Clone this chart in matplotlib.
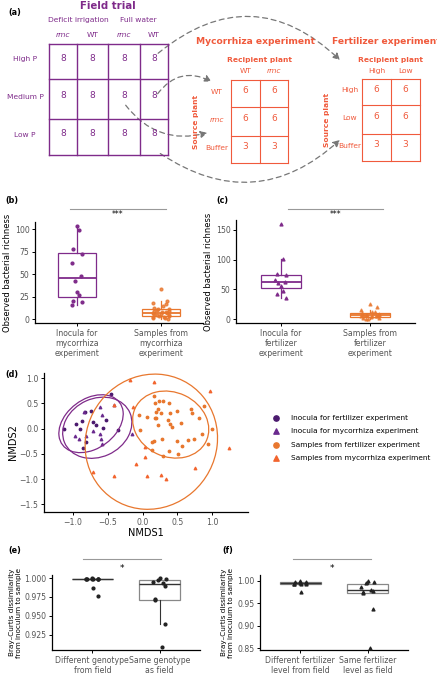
import numpy as np
import matplotlib
matplotlib.use("Agg")
import matplotlib.pyplot as plt
from matplotlib.patches import FancyArrowPatch, Ellipse

W, H = 437, 680
PURPLE = "#7f2b8a"
ORANGE = "#e8772e"
RED = "#f05a3c"

# ---- panel a data
field_rows = ["High P", "Medium P", "Low P"]
field_cols = ["rmc", "WT", "rmc", "WT"]
field_n = [[8, 8, 8, 8], [8, 8, 8, 8], [8, 8, 8, 8]]
myc_cols = ["WT", "rmc"]
myc_rows = ["WT", "rmc", "Buffer"]
myc_n = [[6, 6], [6, 6], [3, 3]]
fert_cols = ["High", "Low"]
fert_rows = ["High", "Low", "Buffer"]
fert_n = [[6, 6], [6, 6], [3, 3]]

# ---- panel b/c data
b_inoc = [104, 99, 78, 72, 62, 48, 43, 30, 27, 20, 19, 16]
b_samp = [34, 20, 18, 17, 15, 13, 12, 11, 10, 9, 9, 8, 8, 7, 7, 6, 6, 5, 5, 4, 4, 3, 3, 2, 1, 0]
c_inoc = [160, 101, 75, 74, 66, 63, 60, 56, 48, 42, 36]
c_samp = [25, 20, 15, 13, 12, 10, 9, 8, 8, 7, 7, 6, 6, 5, 5, 4, 3, 2, 1, 0]

# ---- panel d data (NMDS1, NMDS2)
inoc_fert_x = [-1.13, -0.96, -0.90, -0.87, -0.83, -0.74, -0.71, -0.67, -0.57, -0.53, -0.36, -0.45, -0.81, -0.86]
inoc_fert_y = [0.00, 0.10, 0.00, 0.16, 0.33, 0.34, 0.14, 0.07, 0.02, 0.18, -0.02, 0.69, -0.26, -0.39]
inoc_myc_x = [-0.97, -0.91, -0.82, -0.62, -0.62, -0.60, -0.58, -0.72, -0.58, -0.85, -0.41, -0.15]
inoc_myc_y = [-0.15, -0.21, -0.14, 0.43, -0.11, -0.21, -0.31, -0.05, 0.26, 0.33, 0.47, -0.11]
samp_fert_x = [0.17, 0.18, 0.24, 0.29, 0.38, 0.23, 0.19, 0.20, 0.18, 0.26, 0.40, 0.49, 0.37, 0.39, 0.56,
               0.42, 0.70, 0.71, 0.88, 0.82, 0.22, 0.07, -0.05, 0.28, 0.49, 0.57, 0.65, 0.74, 0.86, 0.94,
               1.00, 0.13, 0.17, 0.38, 0.51, 0.30, 0.14, -0.03]
samp_fert_y = [0.64, 0.51, 0.55, 0.55, 0.51, 0.39, 0.32, 0.20, 0.20, 0.30, 0.31, 0.34, 0.18, 0.10, 0.12,
               0.04, 0.38, 0.30, 0.45, 0.20, 0.07, 0.22, 0.26, -0.21, -0.25, -0.34, -0.23, -0.21, -0.10, -0.31,
               0.00, -0.26, -0.25, -0.44, -0.51, -0.54, -0.43, -0.03]
samp_myc_x = [-0.18, 0.17, 0.97, -0.14, 0.04, -0.10, -0.72, -0.41, 0.06, 0.26, 0.34, 0.75, 1.24, 0.03, -0.41]
samp_myc_y = [0.97, 0.92, 0.74, 0.43, -0.57, -0.70, -0.86, -0.94, -0.94, -0.91, -0.99, -0.77, -0.38, -0.36, 0.47]
legend_labels = ["Inocula for fertilizer experiment", "Inocula for mycorrhiza experiment",
                 "Samples from fertilizer experiment", "Samples from mycorrhiza experiment"]

# ---- panel e/f data
e_diff = [0.9995, 0.9993, 0.9992, 0.9991, 0.999, 0.999, 0.9989, 0.9988, 0.9987, 0.987, 0.976]
e_same = [1.000, 0.999, 0.998, 0.995, 0.993, 0.990, 0.972, 0.971, 0.939, 0.909]
f_diff = [0.999, 0.998, 0.997, 0.996, 0.995, 0.994, 0.993, 0.993, 0.992, 0.975]
f_same = [0.999, 0.997, 0.995, 0.986, 0.980, 0.977, 0.975, 0.972, 0.937, 0.850]

fig = plt.figure(figsize=(W / 100, H / 100), dpi=100)
FS = 5.6


def px_axes(x0, y0, x1, y1):
    return fig.add_axes([x0 / W, 1 - y1 / H, (x1 - x0) / W, (y1 - y0) / H])


def style(ax):
    for s in ["top", "right"]:
        ax.spines[s].set_visible(False)
    for s in ["left", "bottom"]:
        ax.spines[s].set_linewidth(0.9)
    ax.tick_params(labelsize=FS, labelcolor="#555555", length=2.5, width=0.7, pad=1.5)


# ---------------- panel a (drawn in pixel space)
ov = fig.add_axes([0, 0, 1, 1])
ov.set_xlim(0, W)
ov.set_ylim(H, 0)
ov.axis("off")


def grid(x_edges, y_edges, vals, color, lw):
    for x in x_edges:
        ov.plot([x, x], [y_edges[0], y_edges[-1]], color=color, lw=lw)
    for y in y_edges:
        ov.plot([x_edges[0], x_edges[-1]], [y, y], color=color, lw=lw)
    for i, row in enumerate(vals):
        for j, v in enumerate(row):
            ov.text((x_edges[j] + x_edges[j + 1]) / 2, (y_edges[i] + y_edges[i + 1]) / 2 - 3, str(v),
                    ha="center", va="center", color=color, fontsize=6.5)


ov.text(8, 13, "(a)", fontsize=5.8, fontweight="bold", va="center")
fx = [49, 77, 108, 140, 168]
fy = [44, 79, 119, 155]
grid(fx, fy, field_n, PURPLE, 1.0)
ov.text(108, 6, "Field trial", color=PURPLE, fontsize=7.3, fontweight="bold", ha="center", va="center")
ov.text(78, 20, "Deficit irrigation", color=PURPLE, fontsize=5.4, ha="center", va="center")
ov.text(138, 20, "Full water", color=PURPLE, fontsize=5.4, ha="center", va="center")
for j, c in enumerate(field_cols):
    ov.text((fx[j] + fx[j + 1]) / 2, 35, c, color=PURPLE, fontsize=5.4, ha="center", va="center",
            style="italic" if c == "rmc" else "normal")
for i, r in enumerate(field_rows):
    ov.text(25, (fy[i] + fy[i + 1]) / 2 - 2, r, color=PURPLE, fontsize=5.4, ha="center", va="center")


def exp_grid(x_edges, y_edges, vals, cols, rows, title, tx, lab_x, src_x):
    grid(x_edges, y_edges, vals, RED, 0.8)
    ov.text(tx, 42, title, color=RED, fontsize=6.6, fontweight="bold", ha="center", va="center")
    ov.text((x_edges[0] + x_edges[-1]) / 2, 60, "Recipient plant", color=RED, fontsize=5.4,
            fontweight="bold", ha="center", va="center")
    for j, c in enumerate(cols):
        ov.text((x_edges[j] + x_edges[j + 1]) / 2, 71, c, color=RED, fontsize=5.4, ha="center", va="center",
                style="italic" if c == "rmc" else "normal")
    for i, r in enumerate(rows):
        ov.text(lab_x, (y_edges[i] + y_edges[i + 1]) / 2 - 2, r, color=RED, fontsize=5.4, ha="center",
                va="center", style="italic" if r == "rmc" else "normal")
    ov.text(src_x, (y_edges[0] + y_edges[-1]) / 2, "Source plant", color=RED, fontsize=5.4,
            fontweight="bold", rotation=90, ha="center", va="center")


exp_grid([231, 260, 288], [80, 107, 136, 163], myc_n, myc_cols, myc_rows, "Mycorrhiza experiment", 256, 217, 196)
exp_grid([362, 391, 420], [79, 105, 134, 161], fert_n, fert_cols, fert_rows, "Fertilizer experiment", 386, 350, 327)

arr = dict(arrowstyle="-|>,head_length=4,head_width=2", color="#777777", lw=0.9, linestyle=(0, (4, 3)))
ov.add_artist(FancyArrowPatch((156, 55), (342, 62), connectionstyle="arc3,rad=-0.45", **arr))
ov.add_artist(FancyArrowPatch((156, 96), (214, 83), connectionstyle="arc3,rad=-0.45", **arr))
ov.add_artist(FancyArrowPatch((124, 103), (210, 132), connectionstyle="arc3,rad=0.35", **arr))
ov.add_artist(FancyArrowPatch((158, 152), (342, 138), connectionstyle="arc3,rad=0.4", **arr))


# ---------------- panels b and c
def rich(ax, inoc, samp, marker, ylim, yticks, xlabels):
    bp = ax.boxplot([inoc, samp], positions=[1, 2], widths=0.45, showfliers=False, patch_artist=True)
    for k, col in enumerate([PURPLE, ORANGE]):
        bp["boxes"][k].set(facecolor="white", edgecolor=col, lw=0.9)
        bp["medians"][k].set(color=col, lw=1.3)
        for w in bp["whiskers"][2 * k:2 * k + 2]:
            w.set(color=col, lw=0.9)
        for c in bp["caps"][2 * k:2 * k + 2]:
            c.set_visible(False)
    ax.scatter(1 + 0.06 * np.sin(np.arange(len(inoc)) * 2.7), inoc, s=4, marker=marker, color=PURPLE, zorder=3)
    ax.scatter(2 + 0.1 * np.sin(np.arange(len(samp)) * 2.3), samp, s=4, marker=marker, color=ORANGE,
               zorder=3, alpha=0.8)
    ax.set_xlim(0.5, 2.5)
    ax.set_ylim(*ylim)
    ax.set_yticks(yticks)
    ax.set_xticks([1, 2])
    ax.set_xticklabels(xlabels)
    ax.set_ylabel("Observed bacterial richness", fontsize=6, labelpad=2)
    style(ax)


ax_b = px_axes(35, 222, 203, 323)
rich(ax_b, b_inoc, b_samp, "o", (-4, 108), [0, 25, 50, 75, 100],
     ["Inocula for\nmycorrhiza\nexperiment", "Samples from\nmycorrhiza\nexperiment"])
ax_c = px_axes(236, 220, 415, 323)
rich(ax_c, c_inoc, c_samp, "^", (-6, 166), [0, 50, 100, 150],
     ["Inocula for\nfertilizer\nexperiment", "Samples from\nfertilizer\nexperiment"])

for (x0, x1, y) in [(70, 166, 209), (288, 383, 209)]:
    ov.plot([x0, x1], [y, y], color="#999999", lw=0.8)
    ov.text((x0 + x1) / 2, y + 6, "***", fontsize=5.5, ha="center", va="center")
ov.text(5, 200, "(b)", fontsize=5.8, fontweight="bold", va="center")
ov.text(216, 200, "(c)", fontsize=5.8, fontweight="bold", va="center")


# ---------------- panel d
def conf_ellipse(ax, x, y, color, scale=2.0):
    cov = np.cov(x, y)
    vals, vecs = np.linalg.eigh(cov)
    ang = np.degrees(np.arctan2(vecs[1, 1], vecs[0, 1]))
    w, h = 2 * scale * np.sqrt(vals[1]), 2 * scale * np.sqrt(vals[0])
    ax.add_patch(Ellipse((np.mean(x), np.mean(y)), w, h, angle=ang, fill=False, color=color, lw=0.9))


ax_d = px_axes(44, 373, 248, 512)
ax_d.scatter(inoc_fert_x, inoc_fert_y, s=3, marker="o", color="#4b1a6e", label=legend_labels[0])
ax_d.scatter(inoc_myc_x, inoc_myc_y, s=3, marker="^", color="#6a2a8e", label=legend_labels[1])
ax_d.scatter(samp_fert_x, samp_fert_y, s=3, marker="o", color=ORANGE, label=legend_labels[2])
ax_d.scatter(samp_myc_x, samp_myc_y, s=3, marker="^", color="#f2642e", label=legend_labels[3])
conf_ellipse(ax_d, inoc_fert_x, inoc_fert_y, PURPLE, 2.2)
conf_ellipse(ax_d, inoc_myc_x, inoc_myc_y, PURPLE, 2.2)
conf_ellipse(ax_d, samp_fert_x, samp_fert_y, ORANGE, 2.0)
conf_ellipse(ax_d, samp_myc_x, samp_myc_y, ORANGE, 1.8)
ax_d.set_xlim(-1.42, 1.52)
ax_d.set_ylim(-1.65, 1.1)
ax_d.set_xticks([-1.0, -0.5, 0.0, 0.5, 1.0])
ax_d.set_yticks([-1.5, -1.0, -0.5, 0.0, 0.5, 1.0])
ax_d.set_xlabel("NMDS1", fontsize=7, labelpad=1)
ax_d.set_ylabel("NMDS2", fontsize=7, labelpad=1)
style(ax_d)
h, l = ax_d.get_legend_handles_labels()
fig.legend(h, l, loc="center left", bbox_to_anchor=(262 / W, 1 - 438 / H), frameon=False,
           fontsize=5.3, markerscale=2.2, handletextpad=1.0, labelspacing=1.0)
ov.text(5, 374, "(d)", fontsize=5.8, fontweight="bold", va="center")


# ---------------- panels e and f
def bray(ax, diff, same, marker, ylim, yticks, fmt, xlabels):
    bp = ax.boxplot([diff, same], positions=[1, 2], widths=0.6, patch_artist=True, flierprops=dict(marker=""))
    for k in range(2):
        bp["boxes"][k].set(facecolor="white", edgecolor="#888888", lw=0.9)
        bp["medians"][k].set(color="#333333", lw=1.0)
    for w in bp["whiskers"]:
        w.set(color="#333333", lw=0.8)
    for c in bp["caps"]:
        c.set_visible(False)
    ax.scatter(1 + 0.1 * np.sin(np.arange(len(diff)) * 2.1), diff, s=4, marker=marker, color="#222222", zorder=3)
    ax.scatter(2 + 0.1 * np.sin(np.arange(len(same)) * 1.7), same, s=4, marker=marker, color="#222222", zorder=3)
    ax.set_xlim(0.4, 2.6)
    ax.set_ylim(*ylim)
    ax.set_yticks(yticks)
    ax.set_yticklabels([fmt.format(t) for t in yticks])
    ax.set_xticks([1, 2])
    ax.set_xticklabels(xlabels)
    ax.set_ylabel("Bray–Curtis dissimilarity\nfrom inoculum to sample", fontsize=5.2, labelpad=2)
    style(ax)


ax_e = px_axes(52, 575, 200, 650)
bray(ax_e, e_diff, e_same, "o", (0.905, 1.004), [0.925, 0.950, 0.975, 1.000], "{:.3f}",
     ["Different genotype\nfrom field", "Same genotype\nas field"])
ax_f = px_axes(260, 575, 408, 650)
bray(ax_f, f_diff, f_same, "^", (0.846, 1.013), [0.85, 0.90, 0.95, 1.00], "{:.2f}",
     ["Different fertilizer\nlevel from field", "Same fertilizer\nlevel as field"])
for (x0, x1, y) in [(83, 161, 559), (293, 371, 559)]:
    ov.plot([x0, x1], [y, y], color="#999999", lw=0.8)
    ov.text((x0 + x1) / 2, y + 9, "*", fontsize=6.5, ha="center", va="center")
ov.text(8, 551, "(e)", fontsize=5.8, fontweight="bold", va="center")
ov.text(222, 551, "(f)", fontsize=5.8, fontweight="bold", va="center")

fig.savefig("out.png", dpi=100)
